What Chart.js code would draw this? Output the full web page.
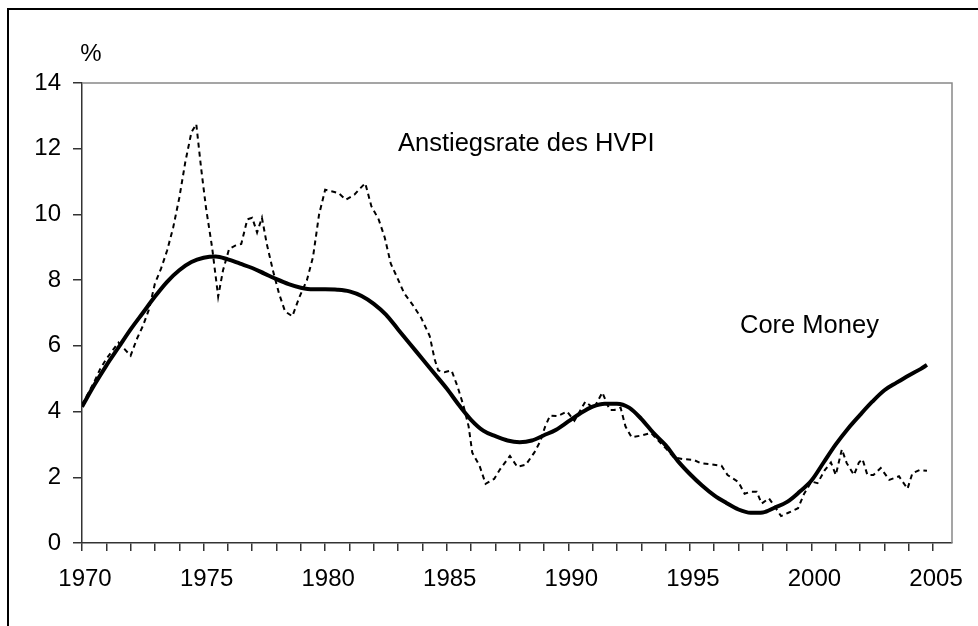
<!DOCTYPE html>
<html>
<head>
<meta charset="utf-8">
<script src="https://cdn.jsdelivr.net/npm/chart.js@4.4.1/dist/chart.umd.min.js"></script>
<style>
  html, body { margin: 0; padding: 0; background: #fff; overflow: hidden; }
  #wrap { position: relative; width: 978px; height: 626px; overflow: hidden; }
  #frame { position: absolute; left: 7px; top: 8px; width: 2000px; height: 2000px; border: 2px solid #000; pointer-events: none; }
  canvas { position: absolute; left: 0; top: 0; }
</style>
</head>
<body>
<div id="wrap">
  <canvas id="chart" width="978" height="626"></canvas>
  <div id="frame"></div>
</div>
<script>
// Core Money (smooth, solid line)
const moneyYears = [1970.0, 1970.5, 1971.0, 1971.5, 1972.0, 1972.5, 1973.0, 1973.5, 1974.0, 1974.5,
  1975.0, 1975.5, 1976.0, 1976.5, 1977.0, 1977.5, 1978.0, 1978.5, 1979.0, 1979.5,
  1980.0, 1980.5, 1981.0, 1981.5, 1982.0, 1982.5, 1983.0, 1983.5, 1984.0, 1984.5,
  1985.0, 1985.5, 1986.0, 1986.5, 1987.0, 1987.5, 1988.0, 1988.5, 1989.0, 1989.5,
  1990.0, 1990.5, 1991.0, 1991.5, 1992.0, 1992.5, 1993.0, 1993.5, 1994.0, 1994.5,
  1995.0, 1995.5, 1996.0, 1996.5, 1997.0, 1997.5, 1998.0, 1998.5, 1999.0, 1999.5,
  2000.0, 2000.5, 2001.0, 2001.5, 2002.0, 2002.5, 2003.0, 2003.5, 2004.0, 2004.5, 2004.75];
const moneyValues = [4.15, 4.8, 5.4, 5.95, 6.5, 7.0, 7.5, 7.95, 8.3, 8.55,
  8.68, 8.72, 8.63, 8.5, 8.37, 8.2, 8.03, 7.88, 7.77, 7.72,
  7.72, 7.71, 7.66, 7.52, 7.28, 6.95, 6.5, 6.05, 5.6, 5.15,
  4.7, 4.2, 3.75, 3.42, 3.25, 3.12, 3.07, 3.12, 3.28, 3.45,
  3.7, 3.95, 4.15, 4.24, 4.24, 4.12, 3.78, 3.35, 2.98, 2.5,
  2.1, 1.75, 1.45, 1.22, 1.02, 0.92, 0.93, 1.08, 1.25, 1.55,
  1.9, 2.45, 3.0, 3.48, 3.9, 4.3, 4.65, 4.88, 5.1, 5.3, 5.42];

// Anstiegsrate des HVPI (dotted line)
const cpiYears = [1970.0, 1970.25, 1970.5, 1970.75, 1971.0, 1971.25, 1971.5, 1971.75, 1972.0, 1972.25,
  1972.5, 1972.75, 1973.0, 1973.25, 1973.5, 1973.75, 1974.0, 1974.25, 1974.5, 1974.7,
  1974.9, 1975.1, 1975.35, 1975.6, 1975.8, 1976.05, 1976.3, 1976.55, 1976.8, 1977.0,
  1977.2, 1977.4, 1977.6, 1977.85, 1978.1, 1978.35, 1978.65, 1978.95, 1979.25, 1979.5,
  1979.75, 1980.0, 1980.3, 1980.55, 1980.85, 1981.2, 1981.45, 1981.65, 1981.9, 1982.2,
  1982.45, 1982.7, 1982.95, 1983.25, 1983.6, 1983.95, 1984.3, 1984.5, 1984.65, 1984.9,
  1985.2, 1985.45, 1985.7, 1985.9, 1986.05, 1986.35, 1986.6, 1986.95, 1987.2, 1987.6,
  1987.9, 1988.25, 1988.6, 1988.85, 1989.05, 1989.25, 1989.55, 1989.95, 1990.25, 1990.7,
  1991.05, 1991.4, 1991.7, 1991.9, 1992.15, 1992.35, 1992.6, 1993.0, 1993.4, 1993.7,
  1994.05, 1994.35, 1994.75, 1995.15, 1995.45, 1995.85, 1996.3, 1996.55, 1997.0, 1997.25,
  1997.5, 1997.75, 1997.95, 1998.25, 1998.5, 1998.75, 1999.05, 1999.45, 1999.7, 2000.0,
  2000.25, 2000.55, 2000.8, 2001.0, 2001.25, 2001.45, 2001.75, 2001.95, 2002.1, 2002.3,
  2002.55, 2002.85, 2003.2, 2003.6, 2003.95, 2004.15, 2004.45, 2004.75];
const cpiValues = [4.2, 4.55, 4.9, 5.3, 5.6, 5.85, 6.1, 5.9, 5.7, 6.2,
  6.6, 7.1, 7.9, 8.35, 8.9, 9.6, 10.5, 11.6, 12.5, 12.75,
  11.4, 10.2, 9.0, 7.5, 8.3, 8.95, 9.05, 9.1, 9.85, 9.9,
  9.45, 9.9, 9.1, 8.3, 7.6, 7.05, 6.9, 7.5, 8.0, 8.7,
  10.0, 10.75, 10.7, 10.65, 10.45, 10.6, 10.8, 10.95, 10.25, 9.85,
  9.3, 8.5, 8.1, 7.6, 7.25, 6.85, 6.3, 5.6, 5.25, 5.2,
  5.25, 4.75, 4.15, 3.55, 2.75, 2.35, 1.8, 1.95, 2.25, 2.65,
  2.32, 2.38, 2.75, 3.1, 3.55, 3.88, 3.86, 4.0, 3.72, 4.3,
  4.1, 4.58, 4.05, 4.05, 4.12, 3.55, 3.22, 3.27, 3.35, 3.12,
  2.85, 2.6, 2.55, 2.53, 2.43, 2.4, 2.35, 2.07, 1.85, 1.5,
  1.56, 1.56, 1.2, 1.36, 1.1, 0.82, 0.92, 1.06, 1.5, 1.87,
  1.82, 2.22, 2.45, 2.07, 2.85, 2.43, 2.07, 2.45, 2.55, 2.07,
  2.07, 2.28, 1.92, 2.03, 1.65, 2.12, 2.22, 2.2];

const yTicks = [0, 2, 4, 6, 8, 10, 12, 14];
const xLabelYears = [1970, 1975, 1980, 1985, 1990, 1995, 2000, 2005];
const unitLabel = '%';
const cpiLabel = 'Anstiegsrate des HVPI';
const moneyLabel = 'Core Money';

const FONT = "'Liberation Sans', Arial, sans-serif";

const annotations = {
  id: 'annotations',
  afterDraw(chart) {
    const { ctx, chartArea } = chart;
    ctx.save();
    // light grey border on top and right of plot area
    ctx.strokeStyle = '#888';
    ctx.lineWidth = 1.5;
    ctx.beginPath();
    ctx.moveTo(chartArea.left, chartArea.top);
    ctx.lineTo(chartArea.right, chartArea.top);
    ctx.lineTo(chartArea.right, chartArea.bottom);
    ctx.stroke();

    ctx.fillStyle = '#000';
    ctx.textBaseline = 'alphabetic';
    ctx.font = '24px ' + FONT;
    ctx.textAlign = 'center';
    ctx.fillText(unitLabel, 91, 61);
    ctx.textAlign = 'left';
    ctx.font = '25.5px ' + FONT;
    ctx.fillText(cpiLabel, 398, 151);
    ctx.fillText(moneyLabel, 740, 333);
    ctx.restore();
  }
};

new Chart(document.getElementById('chart'), {
  type: 'line',
  data: {
    datasets: [
      {
        label: moneyLabel,
        data: moneyYears.map((x, i) => ({ x, y: moneyValues[i] })),
        borderColor: '#000',
        borderWidth: 4,
        pointRadius: 0,
        cubicInterpolationMode: 'monotone',
        fill: false
      },
      {
        label: cpiLabel,
        data: cpiYears.map((x, i) => ({ x, y: cpiValues[i] })),
        borderColor: '#000',
        borderWidth: 2,
        borderDash: [5, 4],
        pointRadius: 0,
        tension: 0,
        fill: false
      }
    ]
  },
  options: {
    responsive: false,
    animation: false,
    layout: { padding: { top: 83, right: 26, left: 0, bottom: 0 } },
    plugins: {
      legend: { display: false },
      tooltip: { enabled: false }
    },
    scales: {
      x: {
        type: 'linear',
        min: 1970,
        max: 2005.78,
        afterFit: s => { s.height = 83; },
        border: { color: '#333', width: 1.5 },
        grid: { drawOnChartArea: false, color: '#333', tickLength: 8, lineWidth: 1.5 },
        ticks: {
          stepSize: 1,
          autoSkip: false,
          includeBounds: false,
          maxRotation: 0,
          labelOffset: 3,
          padding: 14,
          color: '#000',
          font: { family: FONT, size: 24 },
          callback: v => xLabelYears.includes(v) ? String(v) : ''
        }
      },
      y: {
        min: 0,
        max: 14,
        afterFit: s => { s.width = 82; },
        afterBuildTicks: s => { s.ticks = yTicks.map(v => ({ value: v })); },
        border: { color: '#333', width: 1.5 },
        grid: { drawOnChartArea: false, color: '#333', tickLength: 9, lineWidth: 1.5 },
        ticks: {
          padding: 12,
          color: '#000',
          font: { family: FONT, size: 24 }
        }
      }
    }
  },
  plugins: [annotations]
});
</script>
</body>
</html>
